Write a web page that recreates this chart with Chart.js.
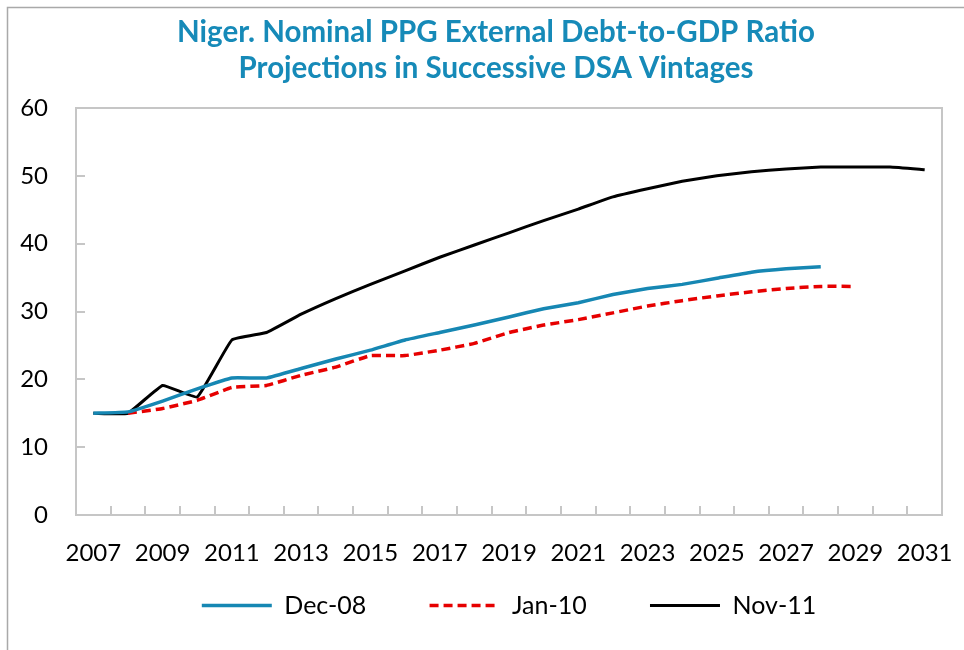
<!DOCTYPE html>
<html>
<head>
<meta charset="utf-8">
<script src="https://cdn.jsdelivr.net/npm/chart.js@4.4.1/dist/chart.umd.min.js"></script>
<style>
  html, body { margin: 0; padding: 0; background: #fff; }
  #wrap { position: relative; width: 964px; height: 650px; }
</style>
</head>
<body>
<div id="wrap"><canvas id="c" width="964" height="650"></canvas></div>
<script>
// categories
const years = ['2007','2008','2009','2010','2011','2012','2013','2014','2015','2016','2017','2018','2019',
  '2020','2021','2022','2023','2024','2025','2026','2027','2028','2029','2030','2031'];

// series (% of GDP)
const dec08 = [15.0, 15.2, 16.8, 18.6, 20.2, 20.2, 21.6, 23.0, 24.3, 25.8, 26.9, 28.0, 29.2,
  30.4, 31.3, 32.5, 33.4, 34.0, 34.9, 35.8, 36.3, 36.6, null, null, null];
const jan10 = [null, 15.0, 15.7, 16.9, 18.8, 19.1, 20.6, 21.8, 23.5, 23.5, 24.3, 25.3, 26.9,
  28.0, 28.8, 29.8, 30.8, 31.6, 32.3, 32.9, 33.4, 33.7, 33.7, null, null];
const nov11 = [15.0, 15.0, 19.1, 17.4, 25.8, 26.9, 29.6, 31.9, 34.0, 36.0, 38.0, 39.8, 41.6,
  43.4, 45.1, 46.9, 48.1, 49.2, 50.0, 50.6, 51.0, 51.3, 51.3, 51.3, 50.9];

const seriesNames = ['Dec-08', 'Jan-10', 'Nov-11'];
const yTicks = [0, 10, 20, 30, 40, 50, 60];
const titleLines = ['Niger. Nominal PPG External Debt-to-GDP Ratio', 'Projections in Successive DSA Vintages'];

const FONT = 'Lato, "Open Sans", sans-serif';

// frame, plot box and inward tick marks (Excel style)
const framePlugin = {
  id: 'frame',
  beforeDatasetsDraw(chart) {
    const { ctx, chartArea: a, scales: { x, y } } = chart;
    ctx.save();
    ctx.strokeStyle = '#a9a9a9';
    ctx.lineWidth = 1.5;
    ctx.beginPath();
    ctx.moveTo(7.5, 650); ctx.lineTo(7.5, 7.5); ctx.lineTo(964, 7.5);
    ctx.stroke();

    ctx.strokeStyle = '#c6c6c6';
    ctx.lineWidth = 2;
    ctx.strokeRect(a.left, a.top, a.right - a.left, a.bottom - a.top);

    const step = (a.right - a.left) / years.length;
    ctx.beginPath();
    for (let i = 1; i < years.length; i++) {
      const px = Math.round(x.getPixelForValue(i) - step / 2);
      ctx.moveTo(px, a.bottom); ctx.lineTo(px, a.bottom - 9);
    }
    yTicks.forEach(v => {
      const py = Math.round(y.getPixelForValue(v));
      ctx.moveTo(a.left, py); ctx.lineTo(a.left + 9, py);
    });
    ctx.stroke();
    ctx.restore();
  }
};

// extra room after the first two legend texts
const gaps = ['        ', '        ', ''];

new Chart(document.getElementById('c'), {
  type: 'line',
  data: {
    labels: years,
    datasets: [
      { label: seriesNames[0], data: dec08, borderColor: '#1687b3', backgroundColor: '#1687b3',
        borderWidth: 3.5, pointRadius: 0, tension: 0.1 },
      { label: seriesNames[1], data: jan10, borderColor: '#e60000', backgroundColor: '#e60000',
        borderWidth: 3.5, borderDash: [9, 5], pointRadius: 0, tension: 0.1 },
      { label: seriesNames[2], data: nov11, borderColor: '#000000', backgroundColor: '#000000',
        borderWidth: 3, pointRadius: 0, tension: 0.1 }
    ]
  },
  options: {
    responsive: false,
    animation: false,
    devicePixelRatio: 1,
    layout: { padding: { left: 50, right: 22, top: 0, bottom: 22 } },
    scales: {
      x: {
        offset: true,
        grid: { display: false, drawTicks: false, offset: true },
        border: { display: false },
        ticks: {
          autoSkip: false, maxRotation: 0, padding: 24, color: '#000',
          font: { family: FONT, size: 24 },
          callback: (v, i) => (i % 2 === 0 ? years[i] : '')
        },
        afterFit: s => {
          s.height = 66;
          s.paddingLeft = 0;
          s.paddingRight = 0; // let "2031" hang over the right margin
        }
      },
      y: {
        min: 0, max: 60,
        grid: { display: false, drawTicks: false },
        border: { display: false },
        ticks: { stepSize: 10, padding: 28, color: '#000', font: { family: FONT, size: 24 } },
        afterFit: s => {
          s.width = 26;
          s._computeLabelArea = () => undefined; // labels sit left of the narrow axis box
        }
      }
    },
    plugins: {
      title: {
        display: true,
        text: titleLines,
        color: '#168ab8',
        font: { family: FONT, size: 29.5, weight: 'bold', lineHeight: '36px' },
        padding: { top: 14, bottom: 22 }
      },
      legend: {
        position: 'bottom',
        fullSize: false,
        labels: {
          usePointStyle: true,
          pointStyle: 'line',
          pointStyleWidth: 70,
          padding: 12,
          color: '#000',
          font: { family: FONT, size: 25 },
          generateLabels: chart => {
            const items = Chart.defaults.plugins.legend.labels.generateLabels(chart);
            items.forEach((it, i) => {
              const ds = chart.data.datasets[i];
              it.text = it.text + gaps[i];
              it.strokeStyle = ds.borderColor;
              it.lineWidth = ds.borderWidth;
              it.lineDash = ds.borderDash || [];
            });
            return items;
          }
        }
      },
      tooltip: { enabled: false }
    }
  },
  plugins: [framePlugin]
});
</script>
</body>
</html>
